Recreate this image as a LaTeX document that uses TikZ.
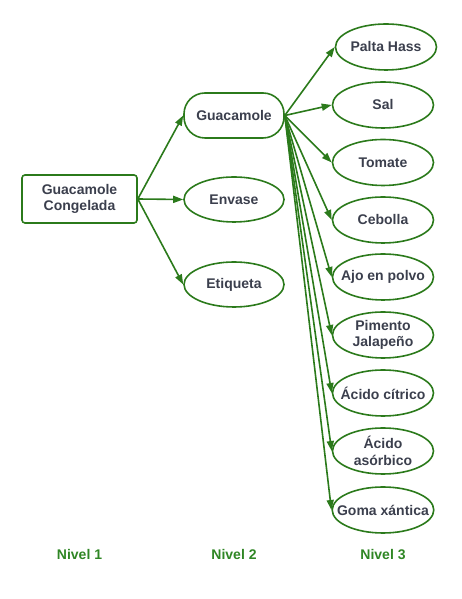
\documentclass[tikz,border=0pt]{standalone}
\usepackage{fontspec}
\setmainfont{Liberation Sans}
\usetikzlibrary{arrows.meta,shapes.geometric}
\definecolor{verde}{HTML}{2B7A1B}
\definecolor{tinta}{HTML}{3B3F4D}
\definecolor{verdenivel}{HTML}{2F8624}

\begin{document}
\begin{tikzpicture}[x=1pt,y=1pt,
    caja/.style={draw=verde,line width=1.6pt,text=tinta,font=\fontsize{14}{16.5}\selectfont\bfseries,align=center},
    raiz/.style={caja,rectangle,rounded corners=3pt,minimum width=115pt,minimum height=48pt},
    capsula/.style={caja,rectangle,rounded corners=21pt,minimum width=100pt,minimum height=45pt},
    elipse/.style={caja,ellipse,inner xsep=-10pt,inner ysep=-4pt,minimum width=100pt,minimum height=45pt},
    flecha/.style={draw=verde,line width=1.6pt,-{Triangle[length=10pt,width=7pt]}},
    nivel/.style={text=verdenivel,font=\fontsize{14}{16.5}\selectfont\bfseries}]
    \useasboundingbox (0,0) rectangle (462,599);

    \node[raiz] (raiz) at (79.5,400) {Guacamole\\Congelada};

    \node[capsula] (gua) at (234,483.5) {Guacamole};
    \node[elipse] (envase) at (234,399.5) {Envase};
    \node[elipse] (etiqueta) at (234,314.5) {Etiqueta};

    \foreach \nom/\txt/\xx/\yy in {palta/Palta Hass/386/552, sal/Sal/383/494,
      tomate/Tomate/383/436.5, cebolla/Cebolla/383/379, ajo/Ajo en polvo/383/322,
      pimento/Pimento\\Jalapeño/383/264, citrico/Ácido cítrico/383/206,
      asorbico/Ácido\\asórbico/383/148, goma/Goma xántica/383/89}
      \node[elipse,minimum width=101pt,minimum height=46pt] (\nom) at (\xx,\yy) {\txt};

    \foreach \nom in {gua,envase,etiqueta}
      \draw[flecha] (raiz.east) -- (\nom.west);
    \foreach \nom in {palta,sal,tomate,cebolla,ajo,pimento,citrico,asorbico,goma}
      \draw[flecha] (gua.east) -- (\nom.west);

    \node[nivel] (n1) at (79.5,45) {Nivel 1};
    \node[nivel] (n2) at (234,45) {Nivel 2};
    \node[nivel] (n3) at (383,44) {Nivel 3};
  \end{tikzpicture}
\end{document}
